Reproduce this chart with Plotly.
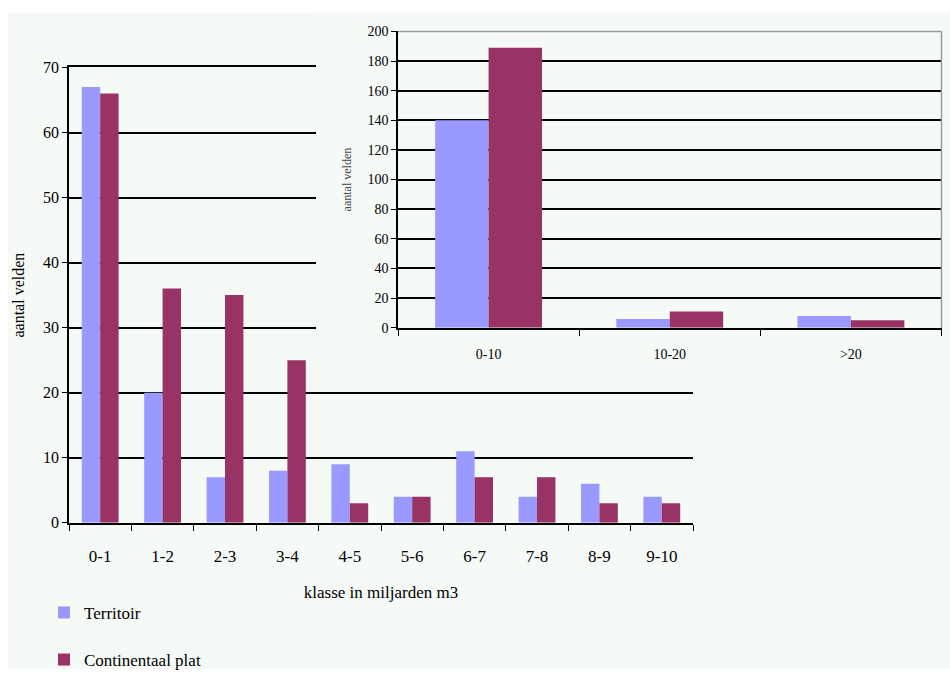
import plotly.graph_objects as go

# ---- data ----
main_categories = ["0-1", "1-2", "2-3", "3-4", "4-5", "5-6", "6-7", "7-8", "8-9", "9-10"]
territoir_main = [67, 20, 7, 8, 9, 4, 11, 4, 6, 4]
continentaal_main = [66, 36, 35, 25, 3, 4, 7, 7, 3, 3]

inset_categories = ["0-10", "10-20", ">20"]
territoir_inset = [140, 6, 8]
continentaal_inset = [189, 11, 5]

series_names = ["Territoir", "Continentaal plat"]
main_y_ticks = [0, 10, 20, 30, 40, 50, 60, 70]
inset_y_ticks = [0, 20, 40, 60, 80, 100, 120, 140, 160, 180, 200]

# ---- style ----
C_TER = "#9999ff"
C_CON = "#993366"
PANEL = "#f6faf7"
FONT = "Liberation Serif, Times New Roman, serif"
W, H = 950, 678


def px_x(p):
    return p / W


def px_y(p):
    return 1 - p / H


fig = go.Figure()

# main chart
fig.add_trace(go.Bar(x=main_categories, y=territoir_main, name=series_names[0],
                     marker=dict(color=C_TER, line=dict(width=0)),
                     legendgroup="a", xaxis="x", yaxis="y"))
fig.add_trace(go.Bar(x=main_categories, y=continentaal_main, name=series_names[1],
                     marker=dict(color=C_CON, line=dict(width=0)),
                     legendgroup="b", xaxis="x", yaxis="y"))

# cover subplot (opaque panel behind inset)
fig.add_trace(go.Scatter(x=[], y=[], xaxis="x2", yaxis="y2", showlegend=False,
                         hoverinfo="skip"))

# inset chart
fig.add_trace(go.Bar(x=inset_categories, y=territoir_inset, name=series_names[0],
                     marker=dict(color=C_TER, line=dict(width=0)),
                     showlegend=False, xaxis="x3", yaxis="y3"))
fig.add_trace(go.Bar(x=inset_categories, y=continentaal_inset, name=series_names[1],
                     marker=dict(color=C_CON, line=dict(width=0)),
                     showlegend=False, xaxis="x3", yaxis="y3"))

axis_common = dict(linecolor="black", linewidth=1.5, tickcolor="black", tickwidth=1.3,
                   ticks="outside", showline=True, zeroline=False)

fig.update_layout(
    width=W, height=H,
    margin=dict(l=0, r=0, t=0, b=0),
    paper_bgcolor="white",
    plot_bgcolor=PANEL,
    font=dict(family=FONT, color="black", size=16),
    barmode="group",
    bargap=0.41,
    bargroupgap=0,
    showlegend=True,
    legend=dict(
        x=px_x(44), y=px_y(602), xanchor="left", yanchor="top",
        traceorder="grouped", tracegroupgap=22,
        font=dict(family=FONT, size=17, color="black"),
        bgcolor="rgba(0,0,0,0)", itemwidth=30,
    ),
    xaxis=dict(
        domain=[px_x(69), px_x(693)],
        anchor="y",
        tickson="boundaries", ticklen=6,
        showgrid=False,
        mirror=True,
        tickfont=dict(size=17),
        ticklabelstandoff=17,
        title=dict(text="klasse in miljarden m3", font=dict(size=17), standoff=21),
        **axis_common,
    ),
    yaxis=dict(
        domain=[px_y(528), px_y(61)],
        anchor="x",
        range=[0, 70], tickvals=main_y_ticks, ticklen=5,
        showgrid=True, gridcolor="black", gridwidth=1.5,
        tickfont=dict(size=16),
        title=dict(text="aantal velden", font=dict(size=16), standoff=14),
        **axis_common,
    ),
    xaxis2=dict(
        domain=[px_x(316), 1.0], anchor="y2",
        showgrid=False, showline=False, zeroline=False,
        showticklabels=False, ticks="", fixedrange=True,
    ),
    yaxis2=dict(
        domain=[px_y(376), px_y(5)], anchor="x2",
        showgrid=False, showline=False, zeroline=False,
        showticklabels=False, ticks="", fixedrange=True,
    ),
    xaxis3=dict(
        domain=[px_x(398), px_x(941.5)],
        anchor="y3",
        tickson="boundaries", ticklen=6,
        showgrid=False,
        tickfont=dict(size=14),
        ticklabelstandoff=13,
        **axis_common,
    ),
    yaxis3=dict(
        domain=[px_y(328), px_y(24)],
        anchor="x3",
        range=[0, 200], tickvals=inset_y_ticks, ticklen=5,
        showgrid=True, gridcolor="black", gridwidth=1.5,
        tickfont=dict(size=14),
        title=dict(text="aantal velden", font=dict(size=12, color="#444"), standoff=13),
        **axis_common,
    ),
)

# panel background with thin white border at top/left
fig.add_shape(type="rect", xref="paper", yref="paper",
              x0=px_x(8), x1=1.0, y0=0.0, y1=px_y(5),
              fillcolor=PANEL, line=dict(width=0), layer="below")

# gray frame on top and right of inset plot area
fig.add_shape(type="line", xref="x3 domain", yref="y3 domain",
              x0=0, x1=1, y0=1, y1=1, line=dict(color="#9a9a9a", width=1.5), layer="above")
fig.add_shape(type="line", xref="x3 domain", yref="y3 domain",
              x0=1, x1=1, y0=0, y1=1, line=dict(color="#9a9a9a", width=1.5), layer="above")

fig.write_html("out.html")
